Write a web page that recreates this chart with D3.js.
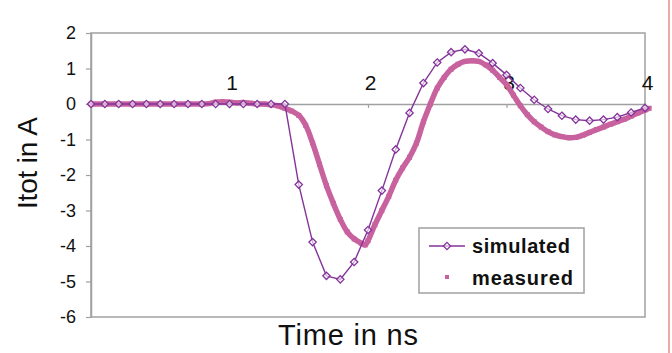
<!DOCTYPE html>
<html>
<head>
<meta charset="utf-8">
<script src="https://cdn.jsdelivr.net/npm/d3@7"></script>
<style>
  body { margin: 0; background: #fff; }
  svg { display: block; }
  text { font-family: "Liberation Sans", Arial, sans-serif; fill: #111; }
</style>
</head>
<body>
<svg width="672" height="353"></svg>
<script>
// simulated: one value every 0.1 ns
const simTime = d3.range(0, 41).map(i => i / 10)
const simValue = [0, 0, 0, 0, 0, 0, 0, 0, 0, 0,
    0, 0, 0, 0, 0, -2.27, -3.89, -4.84, -4.94, -4.45,
    -3.55, -2.44, -1.28, -0.25, 0.59, 1.17, 1.46, 1.54, 1.43, 1.15,
    0.82, 0.45, 0.12, -0.14, -0.33, -0.44, -0.47, -0.44, -0.37, -0.24,
    -0.11]

// measured
const measTime = [0, 0.1, 0.2, 0.3, 0.4, 0.5, 0.6, 0.7, 0.8, 0.85,
    0.9, 0.95, 1.0, 1.05, 1.1, 1.15, 1.2, 1.25, 1.3, 1.35,
    1.4, 1.45, 1.5, 1.55, 1.6, 1.65, 1.7, 1.75, 1.8, 1.85,
    1.9, 1.95, 1.98, 2.0, 2.05, 2.1, 2.15, 2.2, 2.25, 2.3,
    2.35, 2.4, 2.45, 2.5, 2.55, 2.6, 2.65, 2.7, 2.75, 2.8,
    2.85, 2.9, 2.95, 3.0, 3.05, 3.1, 3.15, 3.2, 3.25, 3.3,
    3.35, 3.4, 3.45, 3.5, 3.55, 3.6, 3.65, 3.7, 3.75, 3.8,
    3.85, 3.9, 3.95, 4.0, 4.03]
const measValue = [0, 0, 0, 0, 0, 0, 0, 0, 0, 0.01,
    0.05, 0.06, 0.05, 0.03, 0.04, 0.02, 0, 0, -0.02, -0.05,
    -0.12, -0.2, -0.32, -0.6, -1.1, -1.7, -2.3, -2.8, -3.25, -3.6,
    -3.8, -3.92, -3.97, -3.85, -3.4, -3.0, -2.6, -2.15, -1.8, -1.5,
    -1.1, -0.5, 0.0, 0.45, 0.75, 0.98, 1.12, 1.2, 1.22, 1.2,
    1.1, 0.95, 0.75, 0.55, 0.25, -0.05, -0.3, -0.5, -0.65, -0.78,
    -0.87, -0.92, -0.95, -0.94, -0.88, -0.8, -0.72, -0.65, -0.57, -0.5,
    -0.43, -0.34, -0.25, -0.17, -0.12]

const xTicks = [1, 2, 3, 4]
const yTicks = [2, 1, 0, -1, -2, -3, -4, -5, -6]

const simColor = '#84339a'
const measColor = '#c8629f'
const frameColor = '#a0a0a0'

const plotLeft = 91, plotRight = 645, plotTop = 33, plotBottom = 317

const svg = d3.select('svg')
const x = d3.scaleLinear().domain([0, 4]).range([plotLeft, plotRight])
const y = d3.scaleLinear().domain([-6, 2]).range([plotBottom, plotTop])

// plot frame
svg.append('rect')
    .attr('x', plotLeft).attr('y', plotTop)
    .attr('width', plotRight - plotLeft).attr('height', plotBottom - plotTop)
    .attr('fill', 'none')
    .attr('stroke', frameColor)
    .attr('stroke-width', 1.5)

// y axis (plain hyphen minus like the original)
const yAxis = svg.append('g')
    .attr('transform', `translate(${plotLeft},0)`)
    .call(d3.axisLeft(y).tickValues(yTicks).tickSize(5).tickSizeOuter(0)
        .tickFormat(d => String(d)))
yAxis.select('.domain').attr('stroke', frameColor).attr('stroke-width', 1.5)
yAxis.selectAll('.tick line').attr('stroke', frameColor).attr('stroke-width', 1.2)
yAxis.selectAll('.tick text')
    .style('font-size', '18px')
    .style('font-family', '"Liberation Sans", Arial, sans-serif')
    .attr('fill', '#111')
    .attr('x', -15)

// x axis at y = 0, labels above the line
const xAxis = svg.append('g')
    .attr('transform', `translate(0,${y(0)})`)
    .call(d3.axisBottom(x).tickValues(xTicks).tickSize(4).tickSizeOuter(0)
        .tickFormat(d3.format('d')))
xAxis.select('.domain').attr('stroke', frameColor).attr('stroke-width', 1.5)
xAxis.selectAll('.tick line').attr('stroke', frameColor).attr('stroke-width', 1.2)
xAxis.selectAll('.tick text')
    .style('font-size', '21px')
    .style('font-family', '"Liberation Sans", Arial, sans-serif')
    .attr('fill', '#111')
    .attr('y', -14)
    .attr('dy', 0)
    .attr('dx', 2)

// measured series: dense markers drawn as a thick trace
const measPts = measTime.map((t, i) => [t, measValue[i]])
svg.append('path')
    .datum(measPts)
    .attr('fill', 'none')
    .attr('stroke', measColor)
    .attr('stroke-width', 5.5)
    .attr('stroke-linejoin', 'round')
    .attr('d', d3.line().x(d => x(d[0])).y(d => y(d[1])).curve(d3.curveCatmullRom))
svg.append('g').selectAll('rect')
    .data(measPts)
    .join('rect')
    .attr('x', d => x(d[0]) - 2.5)
    .attr('y', d => y(d[1]) - 2.5)
    .attr('width', 5).attr('height', 5)
    .attr('fill', measColor)

// simulated series
const simPts = simTime.map((t, i) => [t, simValue[i]])
svg.append('path')
    .datum(simPts)
    .attr('fill', 'none')
    .attr('stroke', simColor)
    .attr('stroke-width', 1.4)
    .attr('d', d3.line().x(d => x(d[0])).y(d => y(d[1])))

const diamond = d3.symbol().type(d3.symbolDiamond2).size(34)
svg.append('g').selectAll('path')
    .data(simPts)
    .join('path')
    .attr('transform', d => `translate(${x(d[0])},${y(d[1])})`)
    .attr('d', diamond)
    .attr('fill', '#fff')
    .attr('fill-opacity', 0.6)
    .attr('stroke', simColor)
    .attr('stroke-width', 1.3)

// axis titles
svg.append('text')
    .attr('x', 348).attr('y', 345)
    .attr('text-anchor', 'middle')
    .attr('textLength', 140)
    .style('font-size', '29px')
    .text('Time in ns')

svg.append('text')
    .attr('transform', 'translate(37,163) rotate(-90)')
    .attr('text-anchor', 'middle')
    .attr('textLength', 92)
    .style('font-size', '28px')
    .text('Itot in A')

// legend
const legend = svg.append('g')
legend.append('rect')
    .attr('x', 419).attr('y', 228)
    .attr('width', 165).attr('height', 65)
    .attr('fill', '#fff')
    .attr('stroke', frameColor)
    .attr('stroke-width', 1.5)
legend.append('line')
    .attr('x1', 429).attr('x2', 465)
    .attr('y1', 246).attr('y2', 246)
    .attr('stroke', simColor).attr('stroke-width', 1.6)
legend.append('path')
    .attr('transform', 'translate(447,246)')
    .attr('d', diamond)
    .attr('fill', '#fff').attr('fill-opacity', 0.6)
    .attr('stroke', simColor).attr('stroke-width', 1.3)
legend.append('rect')
    .attr('x', 445).attr('y', 275)
    .attr('width', 4).attr('height', 4)
    .attr('fill', measColor)
legend.append('text')
    .attr('x', 472).attr('y', 253)
    .attr('textLength', 98)
    .style('font-size', '20px').style('font-weight', 'bold')
    .text('simulated')
legend.append('text')
    .attr('x', 472).attr('y', 285)
    .attr('textLength', 101)
    .style('font-size', '20px').style('font-weight', 'bold')
    .text('measured')

// red edge line at the right of the picture
svg.append('line')
    .attr('x1', 669).attr('x2', 669)
    .attr('y1', 0).attr('y2', 353)
    .attr('stroke', '#f08a8a').attr('stroke-width', 1.5)
</script>
</body>
</html>
